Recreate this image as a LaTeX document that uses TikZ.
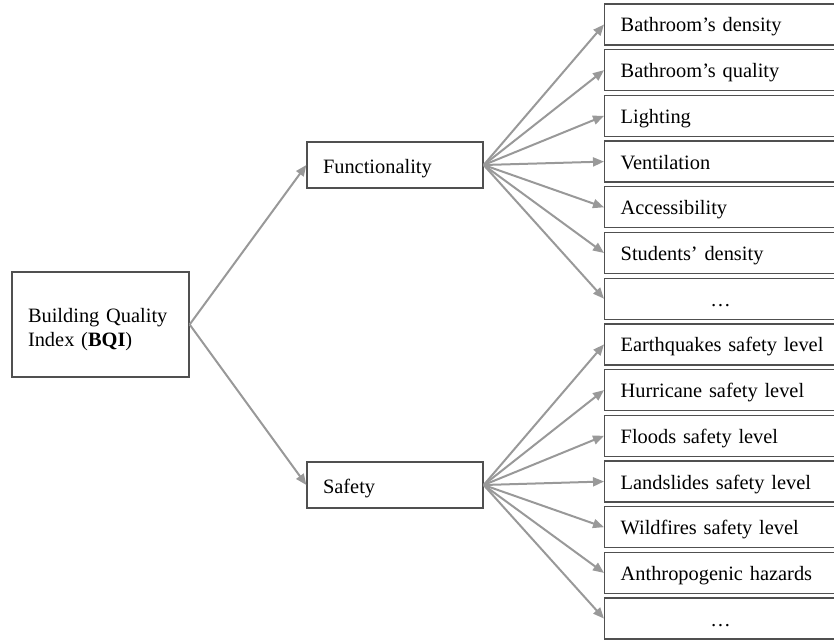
\documentclass[tikz,border=0pt]{standalone}
\usepackage{fontspec}
\setmainfont{Liberation Serif}
\usetikzlibrary{arrows.meta}
\definecolor{boxc}{HTML}{505050}
\definecolor{arrc}{HTML}{999999}
\begin{document}
\begin{tikzpicture}[x=1pt,y=-1pt,
  box/.style={draw=boxc, line width=1.3pt, rectangle, inner ysep=0pt, inner xsep=16pt,
    font=\fontsize{20.4}{24}\selectfont, align=left},
  leaf/.style={box, anchor=west, minimum width=252pt, minimum height=41pt, text width=220pt,
    text height=17pt, text depth=2pt},
  dots/.style={leaf, align=center, minimum width=232pt, text width=200pt},
  mid/.style={box, minimum width=176pt, minimum height=46pt, text width=144pt,
    text height=18pt, text depth=1.5pt},
  arr/.style={draw=arrc, line width=2pt, -{Triangle[length=11pt,width=9pt]}}
]
\useasboundingbox (0,0) rectangle (834,642);
\clip (0,0) rectangle (834,642);
\node[box, minimum width=177pt, minimum height=105pt, text width=145pt] (bqi) at (100.5,324.5)
  {\rule{0pt}{24pt}Building Quality\\Index (\textbf{BQI})};
\node[mid] (fun) at (395,165) {Functionality};
\node[mid] (saf) at (395,485) {Safety};
\node[leaf] (l1) at (604,24.5) {Bathroom’s density};
\node[leaf] (l2) at (604,70.2) {Bathroom’s quality};
\node[leaf] (l3) at (604,115.9) {Lighting};
\node[leaf] (l4) at (604,161.6) {Ventilation};
\node[leaf] (l5) at (604,207.3) {Accessibility};
\node[leaf] (l6) at (604,253.0) {Students’ density};
\node[dots] (l7) at (604,298.7) {\dots};
\node[leaf] (s1) at (604,344.4) {Earthquakes safety level};
\node[leaf] (s2) at (604,390.1) {Hurricane safety level};
\node[leaf] (s3) at (604,435.8) {Floods safety level};
\node[leaf] (s4) at (604,481.5) {Landslides safety level};
\node[leaf] (s5) at (604,527.2) {Wildfires safety level};
\node[leaf] (s6) at (604,572.9) {Anthropogenic hazards};
\node[dots] (s7) at (604,618.6) {\dots};
\draw[arr] (bqi.east) -- (fun.west);
\draw[arr] (bqi.east) -- (saf.west);
\foreach \n in {l1,l2,l3,l4,l5,l6,l7} \draw[arr] (fun.east) -- (\n.west);
\foreach \n in {s1,s2,s3,s4,s5,s6,s7} \draw[arr] (saf.east) -- (\n.west);
\end{tikzpicture}
\end{document}
